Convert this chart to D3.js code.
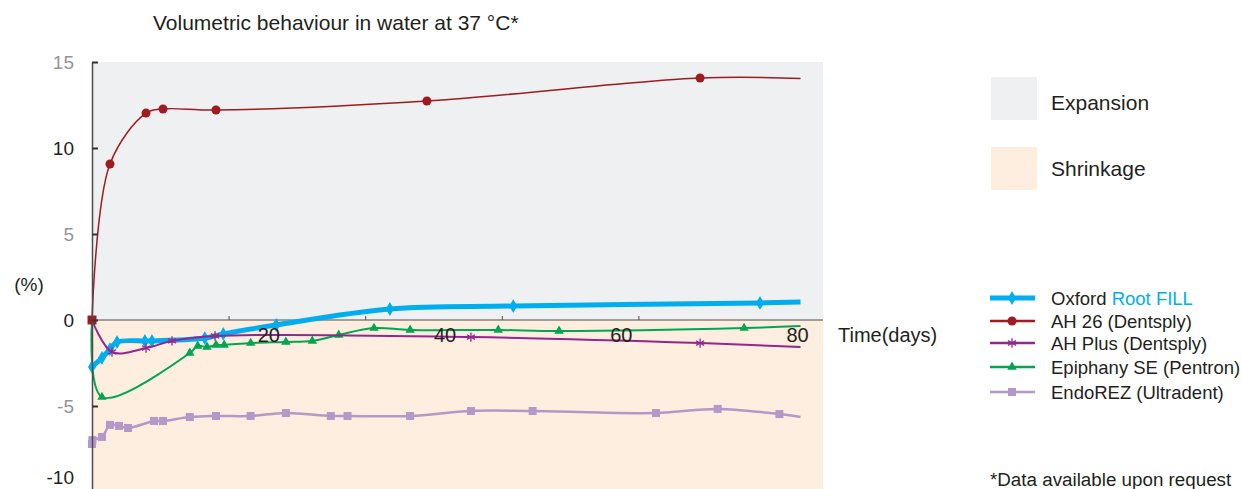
<!DOCTYPE html>
<html>
<head>
<meta charset="utf-8">
<script src="https://cdn.jsdelivr.net/npm/d3@7"></script>
<style>
  body { margin: 0; background: #fff; }
  svg { display: block; font-family: "Liberation Sans", Arial, sans-serif; }
  text { fill: #231f20; }
</style>
</head>
<body>
<svg id="chart" width="1242" height="489"></svg>
<script>
// data (days, % volume change)
const oxfordDays = [0, 1.13, 2.04, 2.84, 6.0, 6.8, 12.8, 14.9, 20.9, 33.8, 47.8, 75.8, 80.4];
const oxfordVals = [-2.73, -2.2, -1.69, -1.28, -1.22, -1.22, -1.05, -0.81, -0.29, 0.64, 0.81, 0.99, 1.05];

const ah26Days = [0, 2.04, 6.13, 8.06, 14.07, 38.0, 69.0, 80.4];
const ah26Vals = [0, 9.07, 12.03, 12.27, 12.21, 12.73, 14.07, 14.04];

const ahPlusDays = [0, 2.27, 6.13, 9.08, 13.96, 43.0, 69.0, 80.4];
const ahPlusVals = [0, -1.86, -1.63, -1.22, -0.93, -0.99, -1.34, -1.57];

const epiphanyDays = [0, 1.13, 11.1, 12.0, 13.05, 14.07, 15.0, 18.0, 22.0, 25.0, 28.0, 32.0, 36.1, 46.1, 53.0, 74.0, 80.4];
const epiphanyVals = [0, -4.48, -1.92, -1.51, -1.57, -1.45, -1.45, -1.34, -1.28, -1.22, -0.87, -0.47, -0.58, -0.58, -0.64, -0.47, -0.35];

const endorezDays = [0, 0.05, 1.13, 2.04, 3.06, 4.09, 7.04, 8.06, 11.1, 14.07, 18.0, 22.0, 27.1, 29.0, 36.1, 43.0, 50.0, 64.0, 71.0, 78.0, 80.4];
const endorezVals = [-7.21, -6.98, -6.8, -6.1, -6.16, -6.28, -5.87, -5.87, -5.64, -5.58, -5.58, -5.41, -5.58, -5.58, -5.58, -5.29, -5.29, -5.41, -5.17, -5.47, -5.64];

const yTicks = [15, 10, 5, 0, -5, -10];
const greyTicks = [15, 5, -5];
const xLabelTicks = [20, 40, 60, 80];
const xTickMarks = [15.5, 31, 46.5, 62];

const series = [
  { name: "EndoREZ (Ultradent)", days: endorezDays, vals: endorezVals, color: "#b597c8", width: 2.5, symbol: d3.symbolSquare, size: 64, legendY: 392 },
  { name: "Epiphany SE (Pentron)", days: epiphanyDays, vals: epiphanyVals, color: "#00a651", width: 2, symbol: d3.symbolTriangle, size: 38, legendY: 367 },
  { name: "Oxford ", extra: "Root FILL", days: oxfordDays, vals: oxfordVals, color: "#00aeef", width: 5, symbol: d3.symbolDiamond, size: 55, legendY: 298 },
  { name: "AH Plus (Dentsply)", days: ahPlusDays, vals: ahPlusVals, color: "#92278f", width: 2, symbol: d3.symbolAsterisk, size: 60, stroke: true, legendY: 343 },
  { name: "AH 26 (Dentsply)", days: ah26Days, vals: ah26Vals, color: "#9e1b20", width: 1.5, symbol: d3.symbolCircle, size: 64, legendY: 321 }
];

const svg = d3.select("#chart");
const plotLeft = 92, plotRight = 823;

const x = d3.scaleLinear().domain([0, 80]).range([plotLeft, 797]);
const y = d3.scaleLinear().domain([-10, 15]).range([492, 62]);

// background zones
svg.append("rect").attr("x", plotLeft).attr("y", y(15)).attr("width", plotRight - plotLeft).attr("height", y(0) - y(15)).attr("fill", "#eff0f2");
svg.append("rect").attr("x", plotLeft).attr("y", y(0)).attr("width", plotRight - plotLeft).attr("height", 492 - y(0)).attr("fill", "#fdeee0");

// x axis line + small tick marks
svg.append("line").attr("x1", plotLeft).attr("x2", plotRight).attr("y1", y(0)).attr("y2", y(0)).attr("stroke", "#4d4d4d").attr("stroke-width", 1);
const xMarks = svg.append("g").attr("transform", `translate(0,${y(0)})`)
  .call(d3.axisBottom(x).tickValues(xTickMarks).tickSizeInner(-4).tickSizeOuter(0).tickFormat(""));
xMarks.select(".domain").remove();
xMarks.selectAll("line").attr("stroke", "#4d4d4d");

// series lines
const line = d3.line().curve(d3.curveCatmullRom.alpha(0.5)).x(d => x(d[0])).y(d => y(d[1]));
series.forEach(s => {
  const pts = s.days.map((d, i) => [d, s.vals[i]]);
  svg.append("path").datum(pts).attr("d", line)
    .attr("fill", "none").attr("stroke", s.color).attr("stroke-width", s.width).attr("stroke-linejoin", "round");
  const marks = pts.filter((p, i) => i < pts.length - 1 && !(p[0] === 0 && p[1] === 0));
  svg.selectAll(null).data(marks).enter().append("path")
    .attr("transform", d => `translate(${x(d[0])},${y(d[1])})`)
    .attr("d", d3.symbol(s.symbol, s.size))
    .attr("fill", s.stroke ? "none" : s.color)
    .attr("stroke", s.stroke ? s.color : "none")
    .attr("stroke-width", 1.3);
});
// shared starting point
svg.append("path").attr("transform", `translate(${x(0)},${y(0)})`)
  .attr("d", d3.symbol(d3.symbolSquare, 80)).attr("fill", "#9e1b20");

// x labels
const xLab = svg.append("g").attr("transform", `translate(0,${y(0)})`)
  .call(d3.axisBottom(x).tickValues(xLabelTicks).tickSize(0).tickPadding(8));
xLab.select(".domain").remove();
xLab.selectAll("text").attr("font-size", 20).style("fill", "#231f20").attr("font-family", "Liberation Sans, Arial, sans-serif");

// y axis
const yAx = svg.append("g").attr("transform", `translate(${plotLeft},0)`)
  .call(d3.axisLeft(y).tickValues(yTicks).tickSizeInner(-6).tickSizeOuter(0).tickPadding(18).tickFormat(d => String(d)));
yAx.select(".domain").attr("stroke", "#4d4d4d").attr("stroke-width", 1.5);
yAx.selectAll("line").attr("stroke", "#333").attr("stroke-width", 2);
yAx.selectAll("text").attr("font-size", 19).attr("font-family", "Liberation Sans, Arial, sans-serif")
  .style("fill", d => greyTicks.includes(d) ? "#939598" : "#231f20")
  .attr("dy", d => d === -10 ? "-0.45em" : "0.32em");

// titles
svg.append("text").attr("x", 153).attr("y", 30).attr("font-size", 21).text("Volumetric behaviour in water at 37 °C*");
svg.append("text").attr("x", 29).attr("y", 291).attr("font-size", 19).attr("text-anchor", "middle").text("(%)");
svg.append("text").attr("x", 838).attr("y", 342).attr("font-size", 20).text("Time(days)");
svg.append("text").attr("x", 990).attr("y", 486).attr("font-size", 18.8).text("*Data available upon request");

// zone legend
svg.append("rect").attr("x", 991).attr("y", 77).attr("width", 46).attr("height", 43).attr("fill", "#eff0f2");
svg.append("text").attr("x", 1051).attr("y", 110).attr("font-size", 21).text("Expansion");
svg.append("rect").attr("x", 991).attr("y", 147).attr("width", 46).attr("height", 43).attr("fill", "#fdeee0");
svg.append("text").attr("x", 1051).attr("y", 176).attr("font-size", 21).text("Shrinkage");

// series legend
series.forEach(s => {
  const g = svg.append("g").attr("transform", `translate(0,${s.legendY})`);
  g.append("line").attr("x1", 990).attr("x2", 1035).attr("stroke", s.color).attr("stroke-width", Math.max(s.width, 2.5));
  g.append("path").attr("transform", "translate(1012,0)").attr("d", d3.symbol(s.symbol, s.size))
    .attr("fill", s.stroke ? "none" : s.color).attr("stroke", s.stroke ? s.color : "none").attr("stroke-width", 1.3);
  const t = g.append("text").attr("x", 1051).attr("y", 6.5).attr("font-size", 18.5).text(s.name);
  if (s.extra) t.append("tspan").style("fill", "#00aeef").text(s.extra);
});
</script>
</body>
</html>
